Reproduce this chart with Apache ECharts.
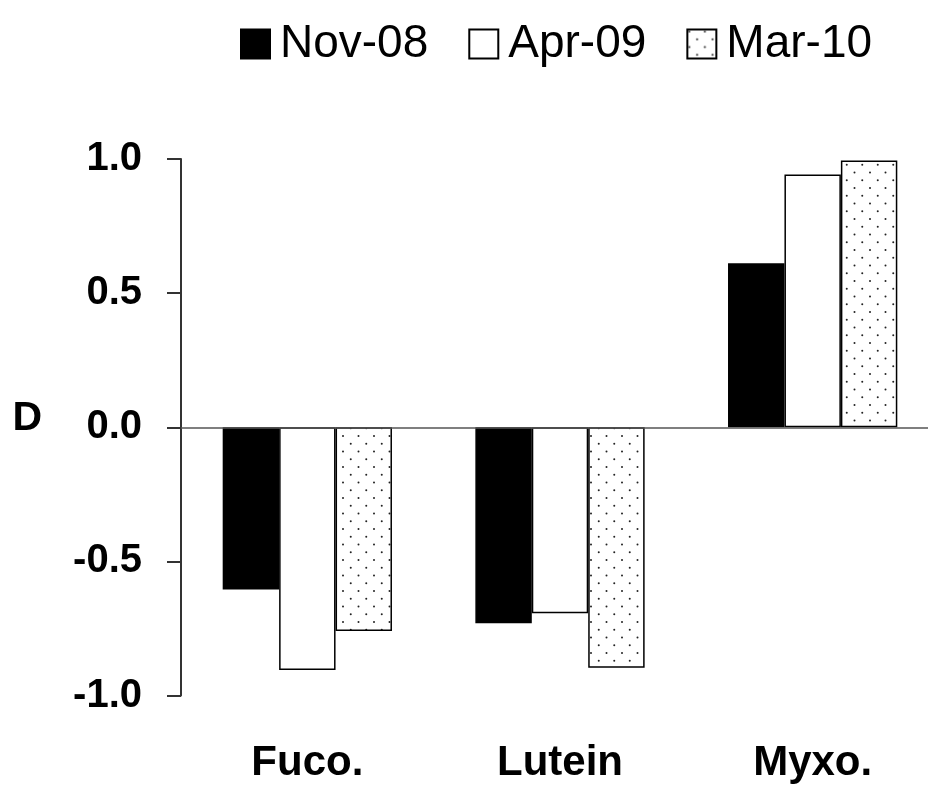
<!DOCTYPE html>
<html>
<head>
<meta charset="utf-8">
<script src="https://cdn.jsdelivr.net/npm/echarts@6/dist/echarts.min.js"></script>
<style>
  html, body { margin: 0; padding: 0; background: #fff; }
  #chart { width: 928px; height: 785px; }
</style>
</head>
<body>
<div id="chart"></div>
<script>
// Pigment categories and the D index for each sampling date
const categories = ['Fuco.', 'Lutein', 'Myxo.'];
const nov08 = [-0.605, -0.731, 0.611];
const apr09 = [-0.905, -0.693, 0.942];
const mar10 = [-0.760, -0.897, 0.994];
const seriesNames = ['Nov-08', 'Apr-09', 'Mar-10'];
const yTicks = [-1.0, -0.5, 0.0, 0.5, 1.0];

const FONT = "'Liberation Sans', Arial, sans-serif";

// Stippled fill: staggered dot grid
function makeDots() {
  const c = document.createElement('canvas');
  c.width = 31; c.height = 31;
  const g = c.getContext('2d');
  g.fillStyle = '#fff';
  g.fillRect(0, 0, 31, 31);
  g.fillStyle = '#222';
  const pts = [[2, 2], [17.5, 2], [2, 17.5], [17.5, 17.5],
               [9.75, 9.75], [25.25, 9.75], [9.75, 25.25], [25.25, 25.25]];
  pts.forEach(([x, y]) => {
    g.beginPath();
    g.arc(x, y, 1.0, 0, Math.PI * 2);
    g.fill();
  });
  return c;
}

const chart = echarts.init(document.getElementById('chart'), null, { renderer: 'canvas' });

const barBase = {
  type: 'bar',
  barGap: '0%',
  barCategoryGap: '33%',
  animation: false
};

chart.setOption({
  backgroundColor: '#fff',
  animation: false,
  grid: {
    left: 181, right: -11, top: 159, bottom: 89.5,
    containLabel: false,
    outerBoundsMode: 'none'
  },
  legend: {
    left: 240,
    top: 21,
    padding: 0,
    itemWidth: 29,
    itemHeight: 29,
    itemGap: 40,
    icon: 'rect',
    data: seriesNames,
    textStyle: { fontFamily: FONT, fontSize: 46, color: '#000', padding: [0, 0, 0, 5] }
  },
  xAxis: {
    type: 'category',
    data: categories,
    position: 'bottom',
    axisLine: { show: false, onZero: false },
    axisTick: { show: false },
    axisLabel: {
      margin: 47,
      fontFamily: FONT, fontSize: 42, fontWeight: 'bold', color: '#000'
    }
  },
  yAxis: {
    type: 'value',
    min: -1, max: 1, interval: 0.5,
    name: 'D',
    nameLocation: 'middle',
    nameRotate: 0,
    nameGap: 139,
    nameTextStyle: {
      fontFamily: FONT, fontSize: 41, fontWeight: 'bold', color: '#000',
      verticalAlign: 'bottom', lineHeight: 18
    },
    splitLine: { show: false },
    axisLine: { show: true, lineStyle: { color: '#333', width: 2 } },
    axisTick: { show: true, length: 14, inside: false, lineStyle: { color: '#333', width: 2 } },
    axisLabel: {
      margin: 39,
      fontFamily: FONT, fontSize: 40, fontWeight: 'bold', color: '#000',
      formatter: v => yTicks.includes(v) ? v.toFixed(1) : ''
    }
  },
  series: [
    Object.assign({}, barBase, {
      name: seriesNames[0],
      data: nov08,
      itemStyle: { color: '#000', borderColor: '#000', borderWidth: 1.5 },
      markLine: {
        silent: true,
        symbol: ['none', 'none'],
        label: { show: false },
        lineStyle: { color: '#555', width: 1.5, type: 'solid' },
        data: [{ yAxis: 0 }],
        animation: false
      }
    }),
    Object.assign({}, barBase, {
      name: seriesNames[1],
      data: apr09,
      itemStyle: { color: '#fff', borderColor: '#000', borderWidth: 1.5 }
    }),
    Object.assign({}, barBase, {
      name: seriesNames[2],
      data: mar10,
      itemStyle: { color: { image: makeDots(), repeat: 'repeat' }, borderColor: '#000', borderWidth: 1.5 }
    })
  ]
});
</script>
</body>
</html>
